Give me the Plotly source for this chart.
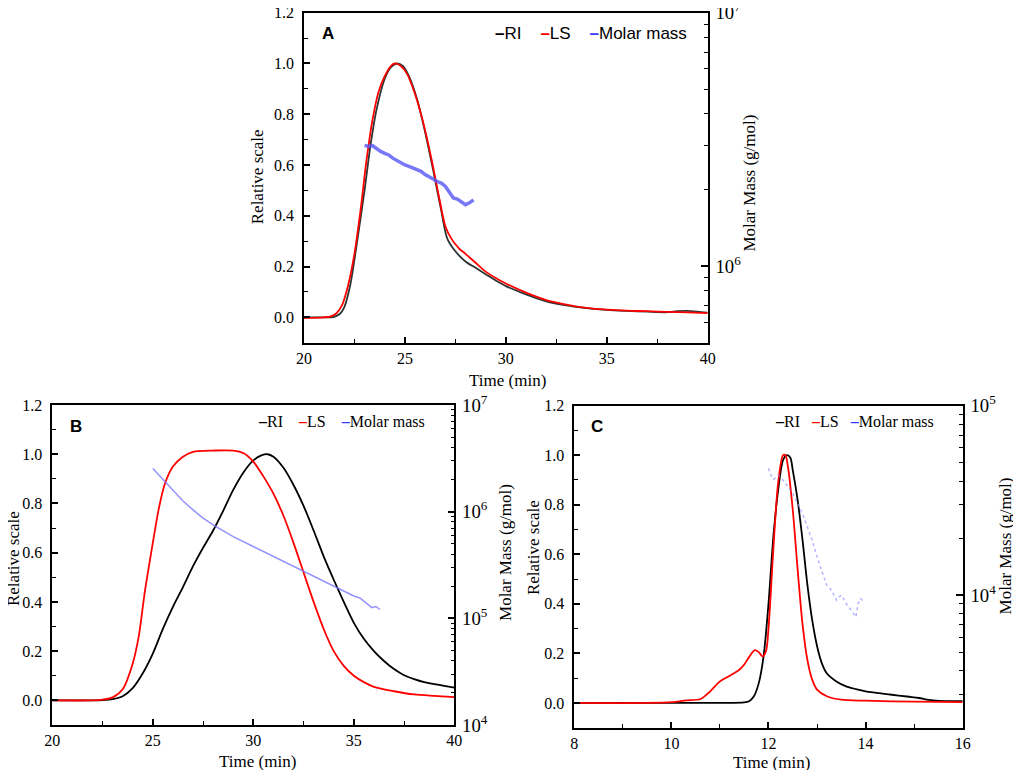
import plotly.graph_objects as go

# ---- data ----
series_names = ["RI", "LS", "Molar mass"]
x_title = "Time (min)"
y_left_title = "Relative scale"
y_right_title = "Molar Mass (g/mol)"

# panel A
a_ri_time = [20, 21, 21.5, 21.8, 22, 22.3, 22.6, 23, 23.3, 23.6, 24, 24.3, 24.6, 24.9, 25.2, 25.6, 26,
             26.4, 26.8, 27.1, 27.5, 28, 28.5, 29, 29.5, 30, 31, 32, 33, 34, 35, 36, 37, 38, 38.5, 39, 39.5, 40]
a_ri = [0.0, 0.0, 0.002, 0.015, 0.04, 0.13, 0.28, 0.5, 0.68, 0.82, 0.94, 0.985, 1.0, 0.99, 0.95, 0.86, 0.73,
        0.58, 0.42, 0.31, 0.26, 0.22, 0.195, 0.17, 0.145, 0.123, 0.09, 0.063, 0.047, 0.036, 0.029, 0.025,
        0.022, 0.02, 0.024, 0.025, 0.022, 0.018]
a_ls_time = [20, 21, 21.3, 21.6, 21.9, 22.2, 22.5, 22.8, 23.1, 23.4, 23.7, 24, 24.3, 24.5, 24.8, 25.1, 25.5,
             25.9, 26.3, 26.7, 27.0, 27.3, 27.7, 28, 28.5, 29, 29.5, 30, 31, 32, 33, 34, 35, 36, 37, 38, 39, 40]
a_ls = [-0.002, 0.0, 0.003, 0.015, 0.05, 0.13, 0.25, 0.42, 0.62, 0.78, 0.89, 0.95, 0.99, 1.0, 0.99, 0.96,
        0.88, 0.77, 0.63, 0.47, 0.36, 0.31, 0.27, 0.25, 0.215, 0.18, 0.155, 0.133, 0.097, 0.068, 0.05, 0.037,
        0.03, 0.026, 0.024, 0.021, 0.019, 0.016]
a_mm_time = [23.0, 23.2, 23.4, 23.6, 23.8, 24.0, 24.2, 24.4, 24.6, 24.8, 25.0, 25.2, 25.4, 25.6, 25.8, 26.0,
             26.2, 26.4, 26.6, 26.8, 27.0, 27.2, 27.4, 27.6, 27.8, 28.0, 28.2, 28.4]
a_mm = [3.00e6, 2.97e6, 2.99e6, 2.91e6, 2.84e6, 2.79e6, 2.75e6, 2.67e6, 2.61e6, 2.55e6, 2.51e6, 2.48e6,
        2.44e6, 2.39e6, 2.37e6, 2.30e6, 2.26e6, 2.21e6, 2.16e6, 2.13e6, 2.07e6, 1.95e6, 1.86e6, 1.84e6,
        1.79e6, 1.75e6, 1.78e6, 1.83e6]

# panel B
b_ri_time = [20, 22, 22.5, 23, 23.5, 24, 24.5, 25, 25.5, 26, 26.5, 27, 27.5, 28, 28.5, 29, 29.5, 30, 30.4,
             30.7, 31, 31.5, 32, 32.5, 33, 33.5, 34, 34.5, 35, 35.5, 36, 36.5, 37, 37.5, 38, 38.5, 39, 39.5, 40]
b_ri = [0.0, 0.0, 0.001, 0.005, 0.017, 0.05, 0.11, 0.19, 0.29, 0.38, 0.46, 0.545, 0.62, 0.69, 0.77, 0.855,
        0.925, 0.975, 0.995, 1.0, 0.99, 0.945, 0.875, 0.79, 0.69, 0.585, 0.49, 0.40, 0.315, 0.25, 0.2, 0.16,
        0.127, 0.102, 0.086, 0.074, 0.066, 0.059, 0.052]
b_ls_time = [20, 22, 22.5, 23, 23.5, 24, 24.3, 24.6, 25, 25.3, 25.6, 26, 26.5, 27, 28, 29, 29.5, 30, 30.5,
             31, 31.5, 32, 32.5, 33, 33.5, 34, 34.5, 35, 35.5, 36, 37, 38, 39, 40]
b_ls = [0.0, 0.0, 0.003, 0.012, 0.045, 0.15, 0.26, 0.44, 0.64, 0.78, 0.88, 0.95, 0.99, 1.01, 1.015, 1.015,
        1.005, 0.97, 0.91, 0.84, 0.75, 0.64, 0.52, 0.40, 0.29, 0.2, 0.14, 0.1, 0.074, 0.055, 0.037, 0.024,
        0.018, 0.013]
b_mm_time = [25, 25.5, 26, 26.5, 27, 27.5, 28, 28.5, 29, 30, 31, 32, 33, 34, 34.5, 35, 35.3, 35.6, 35.9,
             36.1, 36.3]
b_mm = [2.54e6, 2.0e6, 1.58e6, 1.26e6, 1.04e6, 8.7e5, 7.5e5, 6.6e5, 5.83e5, 4.71e5, 3.80e5, 3.06e5,
        2.47e5, 2.0e5, 1.80e5, 1.62e5, 1.55e5, 1.41e5, 1.26e5, 1.29e5, 1.21e5]

# panel C
c_ri_time = [8, 11, 11.5, 11.6, 11.7, 11.8, 11.9, 12.0, 12.1, 12.2, 12.3, 12.38, 12.45, 12.5, 12.6, 12.7,
             12.8, 12.9, 13.0, 13.1, 13.2, 13.4, 13.6, 13.8, 14, 14.5, 14.9, 15.1, 15.3, 15.5, 16]
c_ri = [0.0, 0.0, 0.002, 0.007, 0.027, 0.08, 0.19, 0.40, 0.67, 0.86, 0.98, 1.0, 0.99, 0.94, 0.82, 0.66,
        0.48, 0.335, 0.23, 0.16, 0.12, 0.087, 0.067, 0.056, 0.047, 0.034, 0.025, 0.02, 0.012, 0.008, 0.007]
c_ls_time = [8, 9.5, 10, 10.3, 10.6, 10.8, 11.0, 11.2, 11.4, 11.5, 11.6, 11.72, 11.8, 11.88, 11.95, 12.0,
             12.1, 12.2, 12.3, 12.35, 12.4, 12.5, 12.6, 12.7, 12.8, 12.9, 13.0, 13.2, 13.5, 14, 15, 16]
c_ls = [0.0, 0.0, 0.003, 0.01, 0.016, 0.047, 0.087, 0.11, 0.134, 0.155, 0.185, 0.213, 0.205, 0.188, 0.21,
        0.3, 0.62, 0.89, 1.0, 1.0, 0.955, 0.78, 0.54, 0.32, 0.175, 0.094, 0.054, 0.027, 0.013, 0.009, 0.005,
        0.003]
c_mm_time = [12.0, 12.05, 12.1, 12.15, 12.2, 12.3, 12.4, 12.5, 12.6, 12.7, 12.8, 12.9, 13.0, 13.1, 13.2,
             13.3, 13.4, 13.45, 13.5, 13.55, 13.6, 13.7, 13.8, 13.85, 13.9, 13.95]
c_mm = [46700, 43050, 40830, 41690, 43050, 40460, 37330, 34430, 30480, 26980, 22960, 19500, 15920, 13550,
        11300, 10620, 9420, 9770, 10000, 9550, 9040, 8340, 7690, 9120, 9600, 9330]

ri_color = "black"
ls_color = "#ff0000"
mm_colors = ["rgba(85,85,245,0.8)", "rgba(120,120,255,0.8)", "rgba(140,140,255,0.65)"]

SERIF = "Liberation Serif"
SANS = "Liberation Sans"

# page has an 8px body margin, so the figure is drawn 1005x762
W, H = 1005, 762

fig = go.Figure()

panels = [
    dict(x="x", yl="y", yr="y2", xr=[20, 40], dt=5, mdt=2.5, lr=[5.699, 7],
         xd=[0.2945, 0.6962], yd=[0.5608, 0.9938], ri_col="#2b3535", mmw=3.5, mmdash=None,
         t_left=(0.2483, 0.7786), t_right=(0.7378, 0.7703), t_bottom=(0.4975, 0.5118),
         data=(a_ri_time, a_ri, a_ls_time, a_ls, a_mm_time, a_mm)),
    dict(x="x2", yl="y3", yr="y4", xr=[20, 40], dt=5, mdt=2.5, lr=[4, 7],
         xd=[0.0441, 0.4441], yd=[0.0591, 0.4790], ri_col=ri_color, mmw=1.5, mmdash=None,
         t_left=(0.0050, 0.2769), t_right=(0.4955, 0.2861), t_bottom=(0.2478, 0.0110),
         data=(b_ri_time, b_ri, b_ls_time, b_ls, b_mm_time, b_mm)),
    dict(x="x3", yl="y5", yr="y6", xr=[8, 16], dt=2, mdt=1, lr=[3.301, 5],
         xd=[0.5635, 0.9499], yd=[0.0555, 0.4781], ri_col=ri_color, mmw=1.5, mmdash="dot",
         t_left=(0.5224, 0.2913), t_right=(0.9935, 0.2940), t_bottom=(0.7597, 0.0095),
         data=(c_ri_time, c_ri, c_ls_time, c_ls, c_mm_time, c_mm)),
]

tick_font = dict(family=SERIF, size=16, color="black")
log_tick_font = dict(family=SERIF, size=15, color="black")
title_font = dict(family=SERIF, size=17, color="black")
axes = {}

for i, p in enumerate(panels):
    ri_t, ri_v, ls_t, ls_v, mm_t, mm_v = p["data"]
    fig.add_trace(go.Scatter(x=ri_t, y=ri_v, mode="lines", name="RI", xaxis=p["x"], yaxis=p["yl"],
                             line=dict(color=p["ri_col"], width=1.8, shape="spline", smoothing=0.8)))
    fig.add_trace(go.Scatter(x=ls_t, y=ls_v, mode="lines", name="LS", xaxis=p["x"], yaxis=p["yl"],
                             line=dict(color=ls_color, width=1.8, shape="spline", smoothing=0.8)))
    fig.add_trace(go.Scatter(x=mm_t, y=mm_v, mode="lines", name="Molar mass", xaxis=p["x"], yaxis=p["yr"],
                             line=dict(color=mm_colors[i], width=p["mmw"], dash=p["mmdash"])))

    xkey = "xaxis" if p["x"] == "x" else "xaxis" + p["x"][1:]
    ylkey = "yaxis" if p["yl"] == "y" else "yaxis" + p["yl"][1:]
    yrkey = "yaxis" + p["yr"][1:]

    axes[xkey] = dict(
        domain=p["xd"], anchor=p["yl"], range=p["xr"], dtick=p["dt"], tick0=0, automargin=False,
        ticklabeloverflow="allow",
        ticks="inside", ticklen=6, tickwidth=1.5, tickcolor="black", ticklabelstandoff=0,
        minor=dict(ticks="inside", ticklen=4, dtick=p["mdt"], tick0=0, tickcolor="black", tickwidth=1.2),
        showline=True, linecolor="black", linewidth=1.5, mirror=True,
        showgrid=False, zeroline=False, tickfont=tick_font,
    )
    axes[ylkey] = dict(
        domain=p["yd"], anchor=p["x"], range=[-0.1, 1.2], dtick=0.2, tick0=0, tickformat=".1f",
        automargin=False, ticklabelstandoff=5, ticklabeloverflow="allow",
        ticks="inside", ticklen=6, tickwidth=1.5, tickcolor="black",
        minor=dict(ticks="inside", ticklen=4, dtick=0.1, tick0=0, tickcolor="black", tickwidth=1.2),
        showline=True, linecolor="black", linewidth=1.5,
        showgrid=False, zeroline=False, tickfont=tick_font,
    )
    axes[yrkey] = dict(
        overlaying=p["yl"], side="right", anchor=p["x"], type="log", range=p["lr"], dtick=1,
        automargin=False, ticklabelstandoff=3, ticklabeloverflow="allow",
        exponentformat="power", ticks="inside", ticklen=7, tickwidth=1.5, tickcolor="black",
        minor=dict(ticks="inside", ticklen=4, dtick="D1", tickcolor="black", tickwidth=1.2),
        showline=True, linecolor="black", linewidth=1.5,
        showgrid=False, zeroline=False, tickfont=log_tick_font,
    )

    # axis titles placed as paper annotations (standoff is ignored without automargin)
    for text, pos, angle in [(y_left_title, p["t_left"], -90), (y_right_title, p["t_right"], -90),
                             (x_title, p["t_bottom"], 0)]:
        fig.add_annotation(x=pos[0], y=pos[1], xref="paper", yref="paper", text=text, showarrow=False,
                           textangle=angle, xanchor="center", yanchor="middle", font=title_font)

fig.update_layout(**axes)

# panel letters and legends (drawn as text)
series_colors = [ri_color, ls_color, "#3a3aff"]


def legend_text(colors, gap):
    parts = []
    for name, col in zip(series_names, colors):
        parts.append(f"<span style='color:{col}'><b>–</b></span>{name}")
    return ("&nbsp;" * gap).join(parts)


letters = ["A", "B", "C"]
letter_pos = [(0.3104, 0.9659), (0.0597, 0.4514), (0.5781, 0.4514)]
legend_pos = [(0.6776, 0.9659), (0.4169, 0.4580), (0.9234, 0.4580)]
legend_fonts = [dict(family=SANS, size=17, color="black"), dict(family=SERIF, size=16, color="black"),
                dict(family=SERIF, size=16, color="black")]
legend_gaps = [4, 4, 3]
for i in range(3):
    fig.add_annotation(x=letter_pos[i][0], y=letter_pos[i][1], xref="paper", yref="paper",
                       text=f"<b>{letters[i]}</b>", showarrow=False, xanchor="left", yanchor="middle",
                       font=dict(family=SANS, size=17, color="black"))
    fig.add_annotation(x=legend_pos[i][0], y=legend_pos[i][1], xref="paper", yref="paper",
                       text=legend_text(series_colors, legend_gaps[i]), showarrow=False,
                       xanchor="right", yanchor="middle", font=legend_fonts[i])

fig.update_layout(
    width=W, height=H,
    margin=dict(l=0, r=0, t=0, b=0, autoexpand=False),
    paper_bgcolor="white", plot_bgcolor="white",
    font=dict(family=SERIF, size=16, color="black"),
    showlegend=False,
)

fig.write_html("out.html")
